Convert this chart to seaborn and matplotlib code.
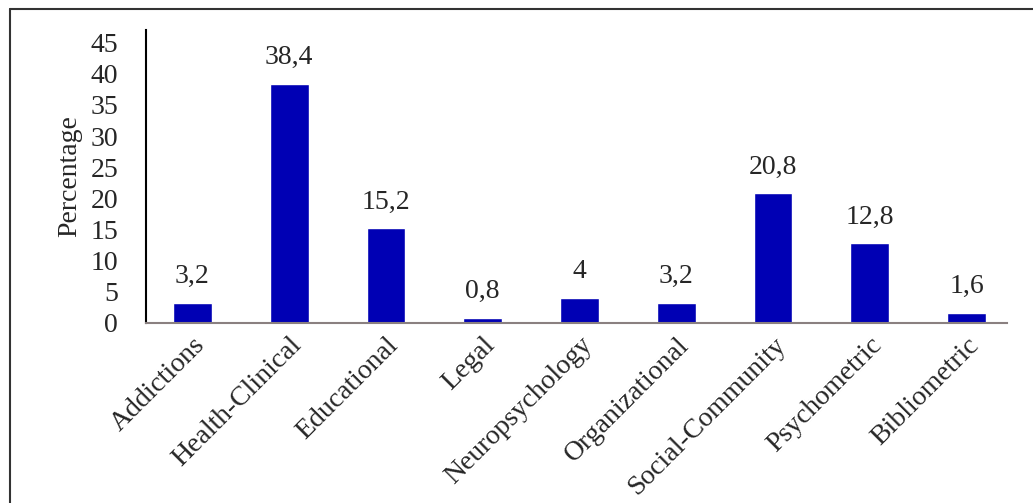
import matplotlib
matplotlib.use('Agg')
import matplotlib.pyplot as plt
import seaborn as sns
import pandas as pd
from matplotlib.lines import Line2D

sns.set_style('white')
plt.rcParams['font.family'] = ['Liberation Serif', 'DejaVu Serif']

areas = ['Addictions', 'Health-Clinical', 'Educational', 'Legal', 'Neuropsychology',
         'Organizational', 'Social-Community', 'Psychometric', 'Bibliometric']
pct = [3.2, 38.4, 15.2, 0.8, 4, 3.2, 20.8, 12.8, 1.6]
pct_labels = ['3,2', '38,4', '15,2', '0,8', '4', '3,2', '20,8', '12,8', '1,6']

df = pd.DataFrame({'area': areas, 'pct': pct})

fig = plt.figure(figsize=(10.33, 5.03), dpi=100)
ax = fig.add_axes([0.1413, 0.358, 0.8337, 0.582])
sns.barplot(data=df, x='area', y='pct', color='#0000b4', saturation=1, width=0.4, ax=ax)

for i, (v, t) in enumerate(zip(pct, pct_labels)):
    ax.text(i, v + 2.2, t, ha='center', va='bottom', fontsize=20)

ax.set_ylim(0, 47)
ax.set_xlim(-0.48, 8.42)
ax.set_yticks(range(0, 50, 5))
ax.tick_params(axis='y', labelsize=20, length=0, pad=20)
ax.tick_params(axis='x', labelsize=20, length=0, pad=7)
plt.setp(ax.get_xticklabels(), rotation=45, ha='right', rotation_mode='anchor')
ax.set_xlabel('')
ax.set_ylabel('Percentage', fontsize=20, labelpad=6)

ax.spines['top'].set_visible(False)
ax.spines['right'].set_visible(False)
ax.spines['left'].set_color('black')
ax.spines['left'].set_linewidth(1.5)
ax.spines['bottom'].set_color('#8a8080')
ax.spines['bottom'].set_linewidth(1.5)

# page frame: only top and left edges show in the crop
fig.add_artist(Line2D([10 / 1033, 10 / 1033], [0, 1 - 9 / 503], transform=fig.transFigure,
                      color='#333333', linewidth=1.5))
fig.add_artist(Line2D([10 / 1033, 1], [1 - 9 / 503, 1 - 9 / 503], transform=fig.transFigure,
                      color='#333333', linewidth=1.5))

fig.savefig('out.png', dpi=100)
